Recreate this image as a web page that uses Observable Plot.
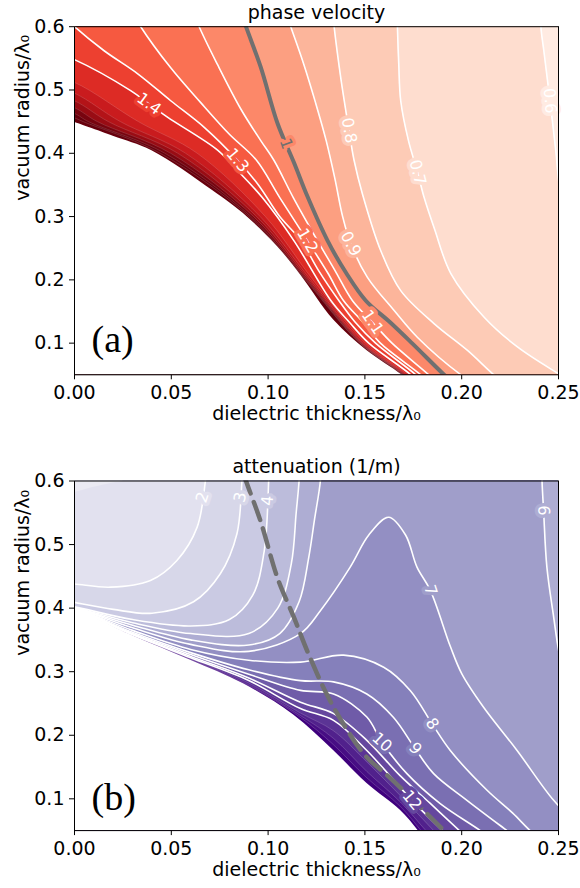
<!DOCTYPE html>
<html>
<head>
<meta charset="utf-8">
<script src="https://cdn.jsdelivr.net/npm/d3@7"></script>
<script src="https://cdn.jsdelivr.net/npm/@observablehq/plot@0.6"></script>
<style>
  html, body { margin: 0; padding: 0; background: #fff; }
  #chart { width: 580px; }
  #chart svg { display: block; }
</style>
</head>
<body>
<div id="chart"></div>
<script>
// ---------- axes / text ----------
const xTicks = [0, 0.05, 0.10, 0.15, 0.20, 0.25];
const yTicks = [0.1, 0.2, 0.3, 0.4, 0.5, 0.6];
const xDomain = [0, 0.25];
const yDomain = [0.05, 0.6];
const titles = ["phase velocity", "attenuation (1/m)"];
const panelTags = ["(a)", "(b)"];
const xLabel = "dielectric thickness/λ₀";
const yLabel = "vacuum radius/λ₀";

// ---------- panel (a): phase velocity contours, [x, y] ----------
const pv06 = [[0.2405,0.65],[0.2409,0.6],[0.2425,0.56],[0.2456,0.483],[0.2486,0.404],[0.2505,0.346],[0.256,0.25],[0.27,0.1]];
const pv07 = [[0.1665,0.65],[0.1668,0.6],[0.1675,0.54],[0.1685,0.483],[0.1725,0.42],[0.1772,0.37],[0.1806,0.33],[0.186,0.28],[0.1944,0.21],[0.2116,0.141],[0.2288,0.094],[0.2495,0.0526],[0.262,0.03]];
const pv08 = [[0.1325,0.65],[0.1341,0.6],[0.1375,0.52],[0.1418,0.436],[0.1444,0.389],[0.1488,0.335],[0.1582,0.246],[0.1685,0.183],[0.1857,0.131],[0.203,0.0885],[0.2166,0.05],[0.225,0.03]];
const pv09 = [[0.106,0.65],[0.1117,0.6],[0.1185,0.54],[0.1245,0.48],[0.13,0.42],[0.1345,0.36],[0.1385,0.3],[0.1427,0.257],[0.1513,0.204],[0.165,0.152],[0.1772,0.109],[0.1996,0.05],[0.21,0.03]];
const pv10 = [[0.083,0.65],[0.0886,0.6],[0.0962,0.536],[0.1049,0.447],[0.1134,0.385],[0.1203,0.332],[0.1307,0.262],[0.1405,0.21],[0.1505,0.167],[0.163,0.133],[0.1743,0.1],[0.1909,0.05],[0.198,0.03]];
const pv11 = [[0.058,0.65],[0.0644,0.6],[0.0739,0.54],[0.0859,0.47],[0.0962,0.42],[0.103,0.389],[0.113,0.33],[0.1255,0.262],[0.1345,0.215],[0.1436,0.167],[0.1539,0.133],[0.164,0.1],[0.183,0.05],[0.19,0.03]];
const pv12 = [[0.025,0.65],[0.0342,0.6],[0.0497,0.535],[0.0652,0.48],[0.08,0.43],[0.094,0.389],[0.106,0.33],[0.1203,0.262],[0.131,0.21],[0.139,0.167],[0.149,0.133],[0.158,0.1],[0.1789,0.05],[0.186,0.03]];
const pv13 = [[-0.01,0.63],[0,0.6],[0.0153,0.562],[0.0325,0.526],[0.0497,0.483],[0.067,0.441],[0.0842,0.389],[0.095,0.35],[0.106,0.3],[0.117,0.262],[0.126,0.215],[0.1366,0.167],[0.145,0.133],[0.1555,0.1],[0.1763,0.05],[0.183,0.03]];
const pv14 = [[-0.02,0.65],[-0.02,0.57],[0,0.548],[0.029,0.499],[0.0385,0.478],[0.048,0.457],[0.0739,0.405],[0.0835,0.375],[0.097,0.33],[0.1133,0.262],[0.1325,0.167],[0.142,0.133],[0.152,0.1],[0.1737,0.05],[0.18,0.03]];
const pv15 = [[-0.02,0.65],[-0.02,0.53],[0,0.512],[0.033,0.45],[0.0634,0.4],[0.0986,0.3],[0.1232,0.2],[0.1502,0.1],[0.172,0.05],[0.178,0.03]];
const pv16 = [[-0.02,0.65],[-0.02,0.515],[0,0.495],[0.0237,0.45],[0.0574,0.4],[0.0959,0.3],[0.122,0.2],[0.1492,0.1],[0.1712,0.05],[0.177,0.03]];
const pv17 = [[-0.02,0.65],[-0.02,0.503],[0,0.483],[0.0175,0.45],[0.0534,0.4],[0.0941,0.3],[0.1211,0.2],[0.1486,0.1],[0.1706,0.05],[0.1765,0.03]];
const pv18 = [[-0.02,0.65],[-0.02,0.492],[0,0.472],[0.0118,0.45],[0.0497,0.4],[0.0925,0.3],[0.1203,0.2],[0.1481,0.1],[0.1701,0.05],[0.176,0.03]];
const pv19 = [[-0.02,0.65],[-0.02,0.483],[0,0.463],[0.0072,0.45],[0.0467,0.4],[0.0911,0.3],[0.1197,0.2],[0.1476,0.1],[0.1697,0.05],[0.1757,0.03]];
const pv20 = [[-0.02,0.65],[-0.02,0.476],[0,0.456],[0.0045,0.45],[0.0443,0.4],[0.0901,0.3],[0.1192,0.2],[0.1473,0.1],[0.1693,0.05],[0.1753,0.03]];
const pvEdge = [[0,0.449],[0.02,0.427],[0.04,0.404],[0.0713,0.341],[0.0894,0.299],[0.105,0.252],[0.117,0.207],[0.134,0.136],[0.151,0.0885],[0.169,0.05],[0.176,0.03]];
const pvLevels = [0.6,0.7,0.8,0.9,1.0,1.1,1.2,1.3,1.4,1.5,1.6,1.7,1.8,1.9,2.0];
const pvLabels = [
  {t:"1.4", v:1.4, x:0.0385, y:0.478}, {t:"1.3", v:1.3, x:0.0842, y:0.389},
  {t:"1.2", v:1.2, x:0.1203, y:0.262}, {t:"1.1", v:1.1, x:0.1539, y:0.133},
  {t:"0.9", v:0.9, x:0.1427, y:0.257}, {t:"0.8", v:0.8, x:0.1418, y:0.436},
  {t:"0.7", v:0.7, x:0.1772, y:0.370}, {t:"0.6", v:0.6, x:0.2456, y:0.483}
];
const pvLabelAngles = [36, 50, 60, 56, 62, 80, 76, 85];
const pvOneLabel = [{t:"1", v:1.0, x:0.1093, y:0.415}];
const pvOneAngle = [70];

// ---------- panel (b): attenuation contours, [x, y] ----------
const at01 = [[-0.01,0.58],[0,0.582],[0.01,0.59],[0.02,0.597],[0.025,0.6],[0.03,0.63]];
const at02 = [[-0.01,0.44],[0,0.438],[0.0185,0.433],[0.0392,0.4435],[0.0529,0.475],[0.0633,0.527],[0.0676,0.6],[0.069,0.65]];
const at03 = [[-0.01,0.415],[0,0.409],[0.02,0.398],[0.04,0.392],[0.0615,0.41],[0.0753,0.454],[0.0839,0.517],[0.0865,0.6],[0.0875,0.65]];
const at04 = [[-0.01,0.407],[0,0.402],[0.03,0.382],[0.06,0.372],[0.08,0.382],[0.092,0.42],[0.098,0.49],[0.1003,0.6],[0.101,0.66]];
const at05 = [[-0.01,0.406],[0,0.401],[0.03,0.377],[0.06,0.36],[0.09,0.36],[0.105,0.4],[0.112,0.47],[0.1145,0.55],[0.116,0.6],[0.117,0.66]];
const at06a = [[-0.01,0.405],[0,0.4],[0.03,0.373],[0.06,0.35],[0.09,0.342],[0.106,0.36],[0.116,0.41],[0.121,0.48],[0.124,0.54],[0.127,0.6],[0.128,0.66]];
const at06b = [[0.2413,0.66],[0.2415,0.6],[0.2423,0.5536],[0.244,0.4645],[0.2475,0.386],[0.2501,0.333],[0.256,0.25]];
const at07 = [[-0.01,0.404],[0,0.3995],[0.03,0.369],[0.06,0.343],[0.09,0.332],[0.1167,0.36],[0.127,0.396],[0.1424,0.4645],[0.152,0.515],[0.1623,0.543],[0.171,0.515],[0.1769,0.4645],[0.1838,0.428],[0.1941,0.34],[0.2,0.297],[0.2113,0.244],[0.2286,0.176],[0.2475,0.0976],[0.26,0.06]];
const at08 = [[-0.01,0.404],[0,0.399],[0.03,0.365],[0.06,0.335],[0.09,0.318],[0.1167,0.315],[0.139,0.326],[0.1597,0.307],[0.1735,0.27],[0.1847,0.218],[0.1941,0.176],[0.2131,0.1134],[0.2265,0.077],[0.2353,0.05],[0.245,0.025],[0.26,0]];
const at09 = [[-0.01,0.403],[0,0.3985],[0.03,0.362],[0.06,0.33],[0.09,0.303],[0.1167,0.286],[0.1338,0.284],[0.151,0.265],[0.1648,0.228],[0.176,0.1788],[0.1855,0.1396],[0.2027,0.0976],[0.2234,0.05],[0.23,0.035],[0.26,0]];
const at10 = [[-0.01,0.403],[0,0.398],[0.03,0.36],[0.06,0.327],[0.09,0.296],[0.1167,0.2706],[0.1338,0.265],[0.151,0.2286],[0.1588,0.189],[0.1717,0.1396],[0.1889,0.0925],[0.2096,0.05],[0.216,0.035],[0.26,0]];
const at11 = [[-0.01,0.4025],[0,0.3978],[0.03,0.359],[0.06,0.324],[0.09,0.29],[0.1167,0.252],[0.1338,0.234],[0.151,0.192],[0.1683,0.136],[0.1835,0.0935],[0.1988,0.05],[0.204,0.035],[0.26,0]];
const at12 = [[-0.01,0.402],[0,0.3975],[0.03,0.358],[0.06,0.322],[0.09,0.286],[0.1167,0.242],[0.1338,0.2234],[0.151,0.176],[0.1743,0.0976],[0.19,0.05],[0.195,0.035],[0.26,0]];
const at13 = [[-0.01,0.4015],[0,0.3972],[0.03,0.3575],[0.06,0.3205],[0.09,0.282],[0.1167,0.235],[0.1338,0.207],[0.151,0.158],[0.1683,0.105],[0.1855,0.05],[0.19,0.035],[0.26,0]];
const at14 = [[-0.01,0.401],[0,0.397],[0.03,0.3572],[0.06,0.3195],[0.09,0.2795],[0.1167,0.231],[0.1338,0.195],[0.151,0.143],[0.1683,0.095],[0.1815,0.05],[0.186,0.035],[0.26,0]];
const at15 = [[-0.01,0.401],[0,0.397],[0.03,0.357],[0.06,0.3185],[0.09,0.278],[0.1167,0.228],[0.1338,0.185],[0.151,0.133],[0.1683,0.088],[0.179,0.05],[0.183,0.035],[0.26,0]];
const atEdge = [[-0.01,0.401],[0,0.397],[0.03,0.3565],[0.06,0.318],[0.0873,0.281],[0.1132,0.232],[0.1338,0.176],[0.1511,0.124],[0.1683,0.082],[0.1775,0.05],[0.181,0.035],[0.26,0]];
const atLevels = [1,2,3,4,5,6,6,7,8,9,10,11,12,13,14,15];
const atLabels = [
  {t:"2", v:2, x:0.0661, y:0.5745}, {t:"3", v:3, x:0.0857, y:0.5745},
  {t:"4", v:4, x:0.0997, y:0.569}, {t:"7", v:7, x:0.1838, y:0.428},
  {t:"6", v:6, x:0.2423, y:0.5536}, {t:"8", v:8, x:0.1847, y:0.218},
  {t:"9", v:9, x:0.176, y:0.1788}, {t:"10", v:10, x:0.1588, y:0.189},
  {t:"12", v:12, x:0.1743, y:0.0976}
];
const atLabelAngles = [-72, -78, -85, 72, 88, 56, 50, 42, 50];

// ---------- styling ----------
const colorA = v => d3.interpolateReds(Math.max(0, Math.min(1, (v - 0.47) / 1.43)));
const colorB = v => d3.interpolatePurples(Math.max(0, Math.min(1, (v + 1.95) / 17.25)));
const GRAY = "#707070";
const FONT = "DejaVu Sans";

const pvContours = [pv06, pv07, pv08, pv09, pv10, pv11, pv12, pv13, pv14, pv15, pv16, pv17, pv18, pv19, pv20];
const atContours = [at01, at02, at03, at04, at05, at06a, at06b, at07, at08, at09, at10, at11, at12, at13, at14, at15];

const X = d => d[0], Y = d => d[1];

function commonOptions(marginTop, marginBottom) {
  return {
    width: 580, height: 444,
    marginLeft: 74, marginRight: 22, marginTop, marginBottom,
    x: {domain: xDomain, ticks: xTicks, tickFormat: d3.format(".2f"), tickSize: 5, tickPadding: 6, label: null},
    y: {domain: yDomain, ticks: yTicks, tickFormat: d3.format(".1f"), tickSize: 5, tickPadding: 5, label: null},
    color: {type: "identity"},
    style: {fontFamily: FONT, fontSize: "19px", color: "black", background: "white", overflow: "visible"}
  };
}

function frameTexts(i, tagDy, titleDy) {
  return [
    Plot.text([titles[i]], {frameAnchor: "top", lineAnchor: "middle", dy: titleDy, fontSize: 19}),
    Plot.text([xLabel], {frameAnchor: "bottom", lineAnchor: "bottom", dy: 45, fontSize: 19}),
    Plot.text([yLabel], {frameAnchor: "left", lineAnchor: "middle", rotate: -90, dx: -52, fontSize: 19}),
    Plot.text([panelTags[i]], {frameAnchor: "bottom-left", lineAnchor: "middle", dx: 17, dy: tagDy, textAnchor: "start", fontFamily: "Liberation Serif", fontSize: 38})
  ];
}

// ---------- panel (a) ----------
const marksA = [Plot.frame({fill: colorA(2.05), stroke: "none"})];
for (let i = pvContours.length - 1; i >= 0; i--) {
  marksA.push(Plot.areaX(pvContours[i], {y: Y, x1: X, x2: () => 0.5, fill: colorA(pvLevels[i] - 0.05), curve: "catmull-rom", clip: true}));
}
marksA.push(Plot.areaX(pvEdge, {y: Y, x1: () => -0.05, x2: X, fill: "white", curve: "catmull-rom", clip: true}));
for (let i = 9; i < pvContours.length; i++) {
  marksA.push(Plot.line(pvContours[i], {x: X, y: Y, stroke: "white", strokeOpacity: 0.25, strokeWidth: 0.6, curve: "catmull-rom", clip: true}));
}
[0,1,2,3,5,6,7,8].forEach(i => {
  marksA.push(Plot.line(pvContours[i], {x: X, y: Y, stroke: "white", strokeWidth: 1.6, curve: "catmull-rom", clip: true}));
});
marksA.push(Plot.line(pv10, {x: X, y: Y, stroke: GRAY, strokeWidth: 4, curve: "catmull-rom", clip: true}));
marksA.push(Plot.text(pvLabels, {x: "x", y: "y", text: "t", rotate: (d, i) => pvLabelAngles[i], fill: "white",
  stroke: d => colorA(d.v - 0.05), strokeWidth: 7, paintOrder: "stroke", fontSize: 16}));
marksA.push(Plot.text(pvOneLabel, {x: "x", y: "y", text: "t", rotate: (d, i) => pvOneAngle[i], fill: GRAY,
  stroke: d => colorA(d.v + 0.05), strokeWidth: 7, paintOrder: "stroke", fontSize: 16}));
marksA.push(Plot.frame({stroke: "black", strokeWidth: 1}));
marksA.push(...frameTexts(0, -35, -14));

const chartA = Plot.plot({...commonOptions(26.2, 69.7), marks: marksA});

// ---------- panel (b) ----------
const marksB = [Plot.frame({fill: colorB(15.5), stroke: "none"})];
for (let i = atContours.length - 1; i >= 0; i--) {
  marksB.push(Plot.areaY(atContours[i], {x: X, y1: Y, y2: () => 0.8, fill: colorB(atLevels[i] - 0.5), curve: "catmull-rom", clip: true}));
}
marksB.push(Plot.areaY(atEdge, {x: X, y1: () => -0.2, y2: Y, fill: "white", curve: "catmull-rom", clip: true}));
for (let i = 13; i < atContours.length; i++) {
  marksB.push(Plot.line(atContours[i], {x: X, y: Y, stroke: "white", strokeOpacity: 0.3, strokeWidth: 0.6, curve: "catmull-rom", clip: true}));
}
for (let i = 1; i <= 12; i++) {
  marksB.push(Plot.line(atContours[i], {x: X, y: Y, stroke: "white", strokeWidth: 1.6, curve: "catmull-rom", clip: true}));
}
marksB.push(Plot.line(pv10, {x: X, y: Y, stroke: GRAY, strokeWidth: 4.5, strokeDasharray: "19,9", curve: "catmull-rom", clip: true}));
marksB.push(Plot.text(atLabels, {x: "x", y: "y", text: "t", rotate: (d, i) => atLabelAngles[i], fill: "white",
  stroke: d => colorB(d.v - 0.5), strokeWidth: 7, paintOrder: "stroke", fontSize: 16}));
marksB.push(Plot.frame({stroke: "black", strokeWidth: 1}));
marksB.push(...frameTexts(1, -33, -14));

const chartB = Plot.plot({...commonOptions(36.5, 57.9), marks: marksB});

const root = document.getElementById("chart");
root.appendChild(chartA);
root.appendChild(chartB);
</script>
</body>
</html>
